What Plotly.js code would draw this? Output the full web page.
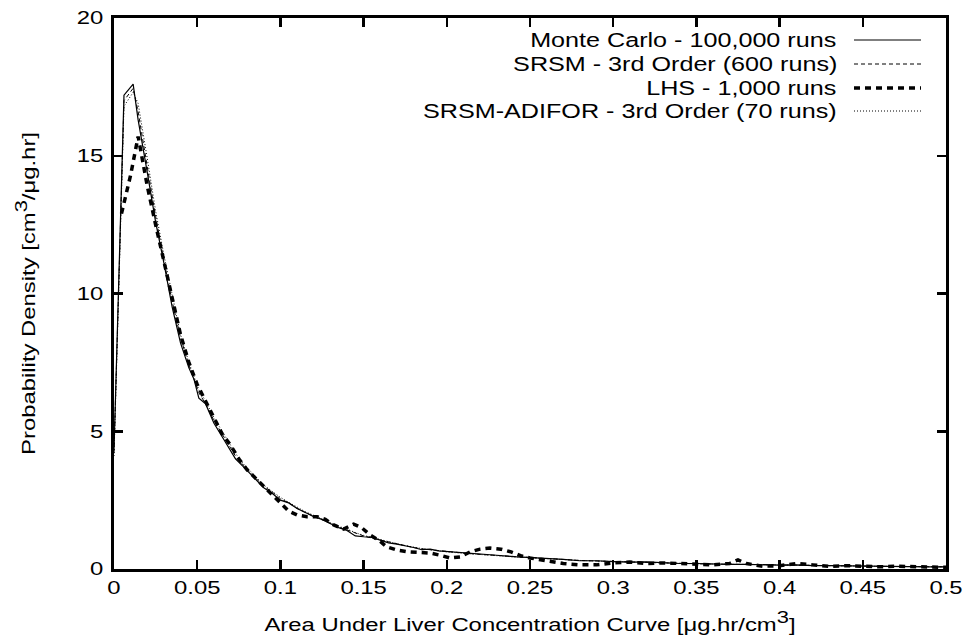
<!DOCTYPE html>
<html><head><meta charset="utf-8">
<script src="https://cdn.plot.ly/plotly-3.0.1.min.js"></script>
<style>body{margin:0;background:#fff}#c{width:969px;height:644px}</style>
</head><body><div id="c"></div>
<script>
const xMC = [0,0.006,0.0115,0.0145,0.02,0.025,0.03,0.035,0.04,0.045,0.048,0.051,0.055,0.06,0.065,0.07,0.073,0.078,0.085,0.09,0.095,0.1,0.105,0.11,0.115,0.12,0.125,0.13,0.135,0.14,0.145,0.15,0.155,0.16,0.165,0.17,0.175,0.18,0.185,0.19,0.195,0.2,0.21,0.22,0.23,0.24,0.25,0.26,0.27,0.28,0.29,0.3,0.31,0.32,0.33,0.34,0.35,0.36,0.37,0.38,0.39,0.4,0.41,0.42,0.43,0.44,0.45,0.46,0.47,0.48,0.49,0.5];
const yMC = [4.3,17.2,17.6,16.3,14.4,12.6,11.1,9.5,8.2,7.3,6.9,6.2,6.0,5.3,4.8,4.3,4.0,3.7,3.25,2.95,2.75,2.5,2.4,2.2,2.05,1.9,1.8,1.65,1.5,1.4,1.2,1.17,1.15,1.05,0.95,0.9,0.85,0.78,0.7,0.72,0.66,0.64,0.6,0.55,0.5,0.45,0.42,0.38,0.35,0.3,0.3,0.27,0.25,0.26,0.22,0.2,0.2,0.18,0.17,0.17,0.15,0.14,0.15,0.12,0.12,0.11,0.1,0.1,0.09,0.09,0.08,0.08];
const ySRSM = [4.2,17.0,17.45,16.6,14.6,12.8,11.2,9.7,8.4,7.4,6.9,6.4,6.0,5.4,4.9,4.4,4.1,3.75,3.3,3.0,2.8,2.55,2.4,2.2,2.05,1.92,1.8,1.65,1.52,1.42,1.3,1.2,1.12,1.05,0.97,0.9,0.84,0.78,0.73,0.7,0.66,0.62,0.58,0.53,0.49,0.45,0.41,0.38,0.34,0.31,0.29,0.27,0.25,0.24,0.22,0.2,0.19,0.18,0.17,0.16,0.15,0.14,0.13,0.12,0.12,0.11,0.1,0.1,0.09,0.09,0.08,0.08];
const yADIFOR = [4.1,16.8,17.3,16.9,14.9,13.0,11.4,9.9,8.5,7.5,7.0,6.5,6.1,5.5,5.0,4.5,4.2,3.8,3.35,3.05,2.82,2.6,2.42,2.25,2.08,1.95,1.82,1.7,1.55,1.45,1.32,1.22,1.14,1.06,0.98,0.92,0.85,0.79,0.74,0.7,0.66,0.62,0.57,0.52,0.48,0.44,0.41,0.37,0.34,0.31,0.29,0.27,0.25,0.24,0.22,0.2,0.19,0.18,0.17,0.16,0.15,0.14,0.13,0.12,0.12,0.11,0.1,0.1,0.09,0.09,0.08,0.08];
const xLHS = [0.0045,0.01,0.0145,0.02,0.025,0.03,0.035,0.04,0.045,0.05,0.055,0.06,0.065,0.07,0.075,0.08,0.085,0.09,0.095,0.1,0.105,0.11,0.116,0.122,0.127,0.132,0.138,0.144,0.149,0.154,0.159,0.164,0.17,0.177,0.184,0.19,0.196,0.202,0.208,0.214,0.22,0.226,0.2325,0.2386,0.245,0.25,0.26,0.27,0.28,0.29,0.3,0.31,0.32,0.33,0.34,0.35,0.36,0.37,0.375,0.38,0.39,0.4,0.41,0.42,0.43,0.44,0.45,0.46,0.47,0.48,0.49,0.5];
const yLHS = [12.9,14.3,15.7,13.9,12.5,11.2,9.8,8.5,7.5,6.7,6.1,5.5,4.9,4.5,4.0,3.6,3.3,3.0,2.7,2.4,2.1,1.96,1.9,1.9,1.8,1.6,1.45,1.63,1.49,1.23,1.05,0.8,0.69,0.62,0.6,0.58,0.5,0.4,0.44,0.62,0.72,0.76,0.72,0.62,0.47,0.4,0.3,0.2,0.15,0.15,0.22,0.25,0.2,0.22,0.2,0.18,0.15,0.2,0.33,0.2,0.1,0.12,0.2,0.15,0.1,0.12,0.1,0.08,0.1,0.08,0.07,0.06];
const names = ["Monte Carlo - 100,000 runs","SRSM - 3rd Order (600 runs)","LHS - 1,000 runs","SRSM-ADIFOR - 3rd Order (70 runs)"];
const xTicks = [0,0.05,0.1,0.15,0.2,0.25,0.3,0.35,0.4,0.45,0.5];
const xTickText = ["0","0.05","0.1","0.15","0.2","0.25","0.3","0.35","0.4","0.45","0.5"];
const yTicks = [0,5,10,15,20];

const styles = [
  {color:'#000',width:1.2,dash:'solid'},
  {color:'#000',width:1,dash:'4px,3px'},
  {color:'#000',width:3.5,dash:'6px,5px'},
  {color:'#000',width:1,dash:'1px,2px'}
];
const traces = [
  {x:xMC,y:yMC,mode:'lines',line:styles[0],name:names[0],showlegend:false},
  {x:xMC,y:ySRSM,mode:'lines',line:styles[1],name:names[1],showlegend:false},
  {x:xLHS,y:yLHS,mode:'lines',line:styles[2],name:names[2],showlegend:false},
  {x:xMC,y:yADIFOR,mode:'lines',line:styles[3],name:names[3],showlegend:false}
];
const FAM='Liberation Sans, Arial, Helvetica, sans-serif';
const W=969,H=644,L=114,R=23,T=18,B=75;
const pw=W-L-R, ph=H-T-B;
const rowsPx=[40,64,88,111];
const annotations=[], shapes=[];
names.forEach((n,i)=>{
  const yp = 1-(rowsPx[i]-T)/ph;
  annotations.push({xref:'paper',yref:'paper',x:(839-L)/pw,y:yp,xanchor:'right',yanchor:'middle',
    text:n,showarrow:false,font:{family:FAM,size:19.5,color:'#000'}});
  shapes.push({type:'line',xref:'paper',yref:'paper',x0:(854-L)/pw,x1:(921-L)/pw,y0:yp,y1:yp,
    line:{color:'#000',width:styles[i].width,dash:styles[i].dash}});
});
const font={family:FAM,size:18.5,color:'#000'};
const sup3='<sup><span style="font-size:17px">3</span></sup>';
const layout={
  width:W,height:H,margin:{l:L,r:R,t:T,b:B},
  paper_bgcolor:'#fff',plot_bgcolor:'#fff',font:font,showlegend:false,
  xaxis:{range:[0,0.5],tickvals:xTicks,ticktext:xTickText,ticks:'inside',ticklen:9,tickwidth:2.5,tickcolor:'#000',
    showline:true,linewidth:3,linecolor:'#000',mirror:'allticks',showgrid:false,zeroline:false,
    tickfont:font,
    title:{text:'Area Under Liver Concentration Curve [μg.hr/cm'+sup3+']',font:font,standoff:21}},
  yaxis:{range:[0,20],tickvals:yTicks,ticks:'inside',ticklen:9,tickwidth:2.5,tickcolor:'#000',ticklabelstandoff:4,
    showline:true,linewidth:3,linecolor:'#000',mirror:'allticks',showgrid:false,zeroline:false,
    tickfont:font,
    title:{text:'Probability Density [cm'+sup3+'/μg.hr]',font:font,standoff:43}},
  annotations:annotations,shapes:shapes
};
// reference text is horizontally stretched (~1.3x); mimic by scaling each text about its anchor
const SX=1.29;
Plotly.newPlot('c',traces,layout,{displayModeBar:false,staticPlot:true}).then(()=>{
  document.querySelectorAll('#c svg text').forEach(t=>{
    if(!t.textContent) return;
    let x=parseFloat(t.getAttribute('x')||0), y=parseFloat(t.getAttribute('y')||0);
    if(t.closest('.annotation')){
      const bb=t.getBBox(); x=bb.x+bb.width; // keep right edge fixed
    }
    const tr=t.getAttribute('transform')||'';
    t.setAttribute('transform',tr+' translate('+x+','+y+') scale('+SX+',1) translate('+(-x)+','+(-y)+')');
  });
});
</script></body></html>
